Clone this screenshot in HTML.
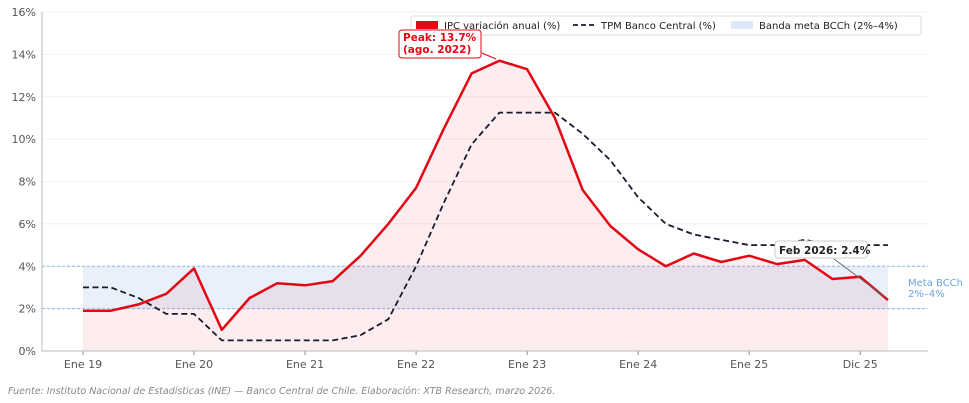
<!DOCTYPE html>
<html><head><meta charset="utf-8"><style>
body{margin:0;background:#fff;}
svg{display:block;font-family:"DejaVu Sans","Liberation Sans",sans-serif;}
</style></head><body>
<svg id="chart" width="969" height="403" viewBox="0 0 969 403" xmlns="http://www.w3.org/2000/svg">
<g id="grid"></g>
<g id="band"></g>
<g id="marks"></g>
<g id="axes"></g>
<g id="legend">
  <rect x="411" y="16" width="510" height="19" fill="#fff" stroke="#ddd" rx="2"/>
  <rect x="416" y="21" width="22" height="8" fill="#e30613"/>
  <text x="444" y="29" font-size="10" fill="#222">IPC variación anual (%)</text>
  <line x1="573" y1="25" x2="596" y2="25" stroke="#1a1a2e" stroke-width="1.8" stroke-dasharray="5,3"/>
  <text x="601" y="29" font-size="10" fill="#222">TPM Banco Central (%)</text>
  <rect x="731" y="21" width="22" height="8" fill="#dce9f8"/>
  <text x="759" y="29" font-size="10" fill="#222">Banda meta BCCh (2%–4%)</text>
</g>
<g>
  <rect x="399" y="30" width="82" height="28" rx="3" fill="#fff" stroke="#e30613" stroke-width="1"/>
  <text x="403" y="41" font-size="10.5" font-weight="bold" fill="#e30613">Peak: 13.7%</text>
  <text x="403" y="53" font-size="10.5" font-weight="bold" fill="#e30613">(ago. 2022)</text>
  <line x1="482" y1="53" x2="496" y2="59" stroke="#e30613" stroke-width="1"/>
</g>
<g>
  <rect x="775" y="241" width="92" height="17" rx="3" fill="#fff" stroke="#ccc"/>
  <text x="779" y="254" font-size="10.5" font-weight="bold" fill="#222">Feb 2026: 2.4%</text>
  <line x1="834" y1="259" x2="885" y2="297" stroke="#666" stroke-width="1"/>
</g>
<text x="908" y="286" font-size="10" fill="#6aa3e0">Meta BCCh</text>
<text x="908" y="297" font-size="10" fill="#6aa3e0">2%–4%</text>
<text x="8" y="394" font-size="9.5" font-style="italic" fill="#888">Fuente: Instituto Nacional de Estadísticas (INE) — Banco Central de Chile. Elaboración: XTB Research, marzo 2026.</text>
</svg>
<script>
const ipc = [1.9,1.9,2.2,2.7,3.9,1.0,2.5,3.2,3.1,3.3,4.5,6.0,7.7,10.5,13.1,13.7,13.3,11.0,7.6,5.9,4.8,4.0,4.6,4.2,4.5,4.1,4.3,3.4,3.5,2.4];
const tpm = [3.0,3.0,2.5,1.75,1.75,0.5,0.5,0.5,0.5,0.5,0.75,1.5,4.0,7.0,9.75,11.25,11.25,11.25,10.25,9.0,7.25,6.0,5.5,5.25,5.0,5.0,5.25,5.0,5.0,5.0];
const xTickLabels = ["Ene 19","Ene 20","Ene 21","Ene 22","Ene 23","Ene 24","Ene 25","Dic 25"];
const xTickIdx = [0,4,8,12,16,20,24,28];
const yTicks = [0,2,4,6,8,10,12,14,16];
const bandRange = [2,4];

const NS="http://www.w3.org/2000/svg";
const x0=83, x1=888, yTop=12, yBot=351, yMax=16;
const n=ipc.length;
const X=i=>x0+(x1-x0)*i/(n-1);
const Y=v=>yBot-(yBot-yTop)*v/yMax;
function mk(tag,attrs,parent){const e=document.createElementNS(NS,tag);for(const k in attrs)e.setAttribute(k,attrs[k]);document.getElementById(parent).appendChild(e);return e;}

yTicks.forEach(v=>{
  const g=mk('line',{x1:42,x2:928,y1:Y(v),y2:Y(v),stroke:'#f0f0f0','stroke-width':1},'grid');
  
  
  const t=mk('text',{x:36,y:Y(v)+4,'font-size':11,fill:'#555','text-anchor':'end'},'axes');
  t.textContent=v+'%';
  
  
});
xTickIdx.forEach((i,k)=>{
  const t=mk('text',{x:X(i),y:368,'font-size':11,fill:'#555','text-anchor':'middle'},'axes');
  t.textContent=xTickLabels[k];
  
  
  const l=mk('line',{x1:X(i),x2:X(i),y1:351,y2:355,stroke:'#888'},'axes');
  
  
});
const sp=mk('path',{d:'M42 12 V351 H928',fill:'none',stroke:'#bbb','stroke-width':1},'axes');



const b=mk('rect',{x:x0,y:Y(bandRange[1]),width:x1-x0,height:Y(bandRange[0])-Y(bandRange[1]),fill:'#e8f1fb'},'band');


bandRange.forEach(v=>{
  const l=mk('line',{x1:42,x2:928,y1:Y(v),y2:Y(v),stroke:'#8fb8e6','stroke-dasharray':'3,2','stroke-width':1},'band');
  
  
});

let pts=ipc.map((v,i)=>X(i).toFixed(1)+','+Y(v).toFixed(1)).join(' L');
const a=mk('path',{d:'M'+X(0)+','+Y(0)+' L'+pts+' L'+X(n-1)+','+Y(0)+' Z',fill:'rgba(227,6,19,0.07)'},'marks');


const tp=mk('path',{d:'M'+tpm.map((v,i)=>X(i).toFixed(1)+','+Y(v).toFixed(1)).join(' L'),fill:'none',stroke:'#1a1a2e','stroke-width':1.8,'stroke-dasharray':'6,3.5'},'marks');


const ip=mk('path',{d:'M'+pts,fill:'none',stroke:'#e30613','stroke-width':2.5,'stroke-linejoin':'round'},'marks');


</script>
</body></html>
